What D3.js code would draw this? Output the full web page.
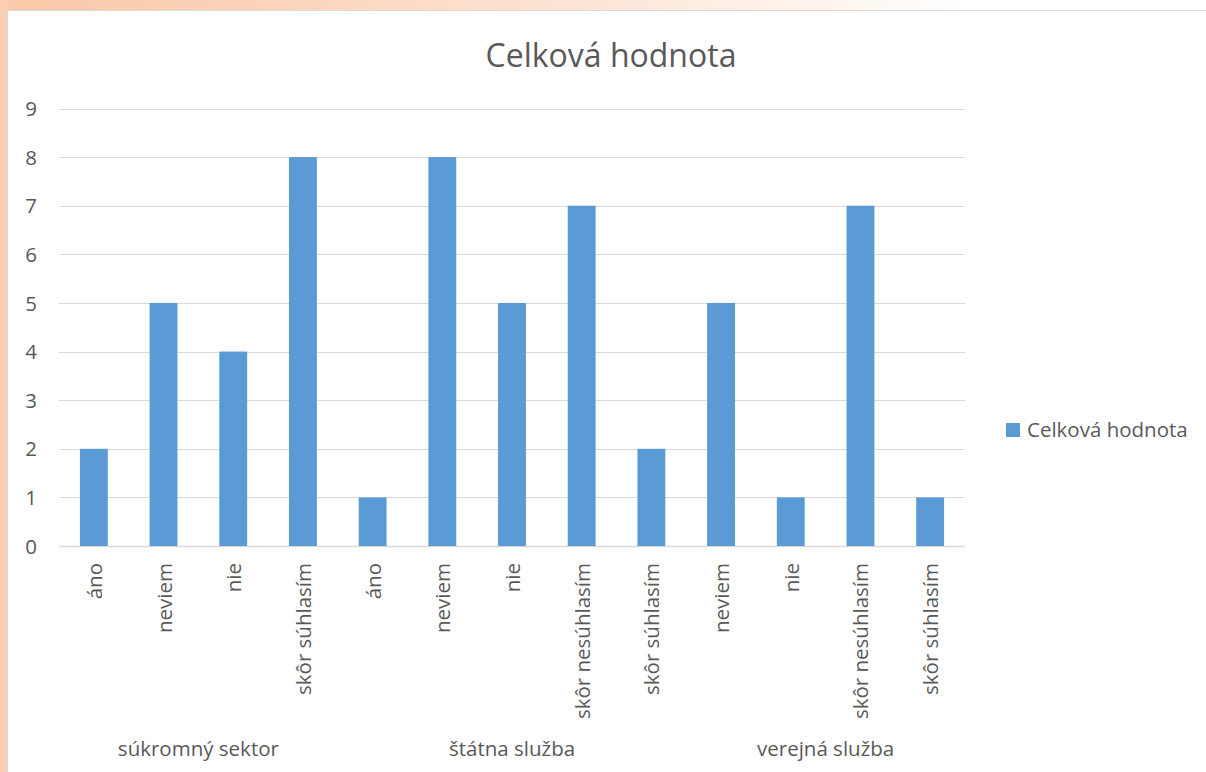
<!DOCTYPE html>
<html><head><meta charset="utf-8">
<script src="https://cdn.jsdelivr.net/npm/d3@7/dist/d3.min.js"></script>
<style>
html,body{margin:0;padding:0;overflow:hidden;}
body{width:1206px;height:772px;background:linear-gradient(90deg,#f9c9a8 0%,#fbd5bc 25%,#fde6d8 50%,#fff6f0 70%,#ffffff 80%);}
svg{display:block;font-family:"Open Sans","Noto Sans",sans-serif;}
</style></head><body>
<svg id="c" width="1206" height="772"></svg>
<script>
const title = "Celková hodnota";
const seriesName = "Celková hodnota";
const groups = ["súkromný sektor", "štátna služba", "verejná služba"];
const groupOf = [0,0,0,0,1,1,1,1,1,2,2,2,2];
const categories = ["áno","neviem","nie","skôr súhlasím","áno","neviem","nie","skôr nesúhlasím","skôr súhlasím","neviem","nie","skôr nesúhlasím","skôr súhlasím"];
const values = [2,5,4,8,1,8,5,7,2,5,1,7,1];
const yTicks = [0,1,2,3,4,5,6,7,8,9];

const svg = d3.select("#c");
const txt = "#595959";
const fs = "20.5px";
// left peach strip
svg.append("rect").attr("x",0).attr("y",0).attr("width",8).attr("height",772).attr("fill","#fccfb2");
// chart area
svg.append("rect").attr("x",7.5).attr("y",10.5).attr("width",1210).attr("height",780)
  .attr("fill","#fff").attr("stroke","#d9d9d9").attr("stroke-width",1);

const left = 59, right = 965, top0 = 108.5, bottom = 546;
const idx = categories.map((d,i)=>i);
const x = d3.scaleBand().domain(idx).range([left,right]).paddingInner(0.6).paddingOuter(0.3);
const y = d3.scaleLinear().domain([0,9]).range([bottom,top0]);

// grid
svg.append("g").selectAll("line").data(yTicks).join("line")
  .attr("x1",left).attr("x2",right)
  .attr("y1",d=>Math.round(y(d))+0.5).attr("y2",d=>Math.round(y(d))+0.5)
  .attr("stroke","#d9d9d9").attr("stroke-width",d=>d===0?1.5:1);

// y labels
const yAxis = d3.axisLeft(y).tickValues(yTicks).tickSize(0).tickPadding(0);
const ga = svg.append("g").attr("transform","translate(37,0)").call(yAxis);
ga.select(".domain").remove();
ga.attr("font-family",null).attr("font-size",null);
ga.selectAll("text").attr("fill",txt).style("font-size",fs).attr("dy","0.35em");

// bars
svg.append("g").selectAll("rect").data(values).join("rect")
  .attr("x",(d,i)=>x(i)).attr("width",x.bandwidth())
  .attr("y",d=>y(d)).attr("height",d=>bottom-y(d))
  .attr("fill","#5b9bd5");

// category labels
svg.append("g").selectAll("text").data(categories).join("text")
  .attr("transform",(d,i)=>`translate(${x(i)+x.bandwidth()/2+8},563) rotate(-90)`)
  .attr("text-anchor","end").attr("fill",txt).style("font-size",fs).text(d=>d);

// group labels
const band = (right-left)/categories.length;
groups.forEach((g,gi)=>{
  const ids = idx.filter(i=>groupOf[i]===gi);
  const x0 = left + band*ids[0], x1 = left + band*(ids[ids.length-1]+1);
  svg.append("text").attr("x",(x0+x1)/2).attr("y",756).attr("text-anchor","middle")
    .attr("fill",txt).style("font-size",fs).text(g);
});

// title
svg.append("text").attr("x",611).attr("y",67).attr("text-anchor","middle")
  .attr("fill",txt).style("font-size","32px").text(title);

// legend
svg.append("rect").attr("x",1006).attr("y",423).attr("width",14).attr("height",14).attr("fill","#5b9bd5");
svg.append("text").attr("x",1027).attr("y",437).attr("fill",txt).style("font-size",fs).text(seriesName);
</script>
</body></html>
